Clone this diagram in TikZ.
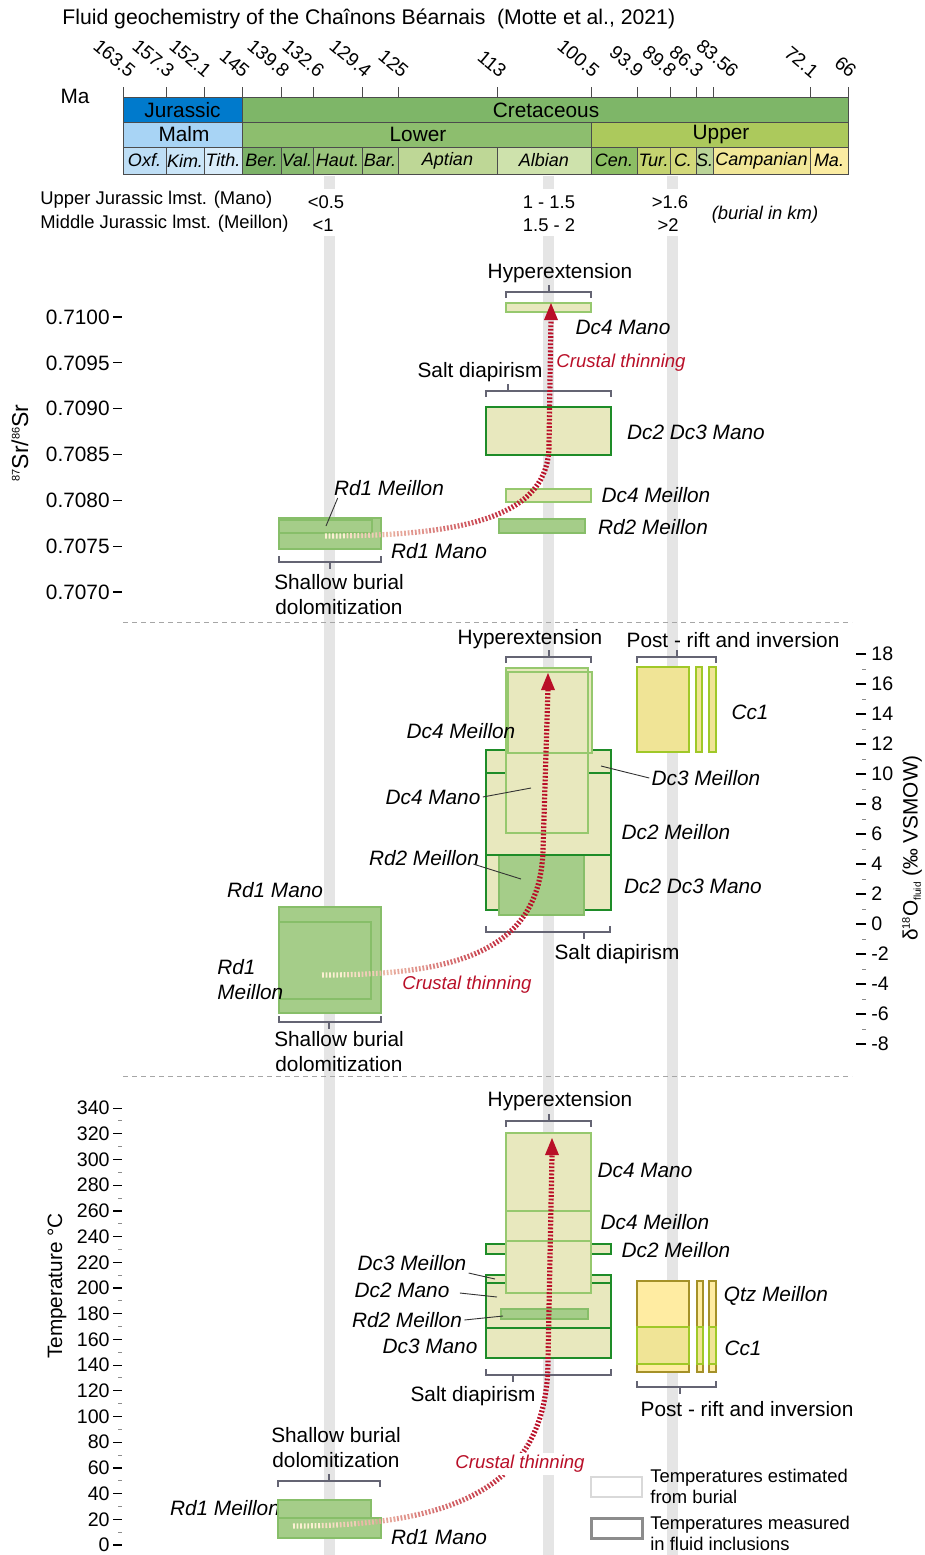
\documentclass[tikz,border=0pt]{standalone}
\usepackage{fontspec}
\setmainfont{Liberation Sans}

% Colores de la escala de tiempo
\definecolor{jurblue}{RGB}{0,122,204}
\definecolor{cretgreen}{RGB}{126,182,104}
\definecolor{malmblue}{RGB}{168,212,245}
\definecolor{lowergreen}{RGB}{141,190,110}
\definecolor{uppergreen}{RGB}{172,201,92}
\definecolor{oxf}{RGB}{190,222,245}
\definecolor{kim}{RGB}{202,229,248}
\definecolor{tith}{RGB}{216,236,250}
\definecolor{ber}{RGB}{124,178,104}
\definecolor{val}{RGB}{136,186,112}
\definecolor{haut}{RGB}{154,196,124}
\definecolor{barr}{RGB}{162,200,130}
\definecolor{apt}{RGB}{190,215,150}
\definecolor{alb}{RGB}{206,226,172}
\definecolor{cen}{RGB}{140,190,100}
\definecolor{tur}{RGB}{196,211,112}
\definecolor{con}{RGB}{210,216,122}
\definecolor{san}{RGB}{186,211,152}
\definecolor{camp}{RGB}{241,231,152}
\definecolor{maas}{RGB}{251,236,162}
% Colores de las cajas
\definecolor{boxfill}{RGB}{232,232,190}
\definecolor{lightgr}{RGB}{150,200,110}
\definecolor{darkgr}{RGB}{30,140,40}
\definecolor{rdfill}{RGB}{165,205,137}
\definecolor{rdline}{RGB}{135,190,105}
\definecolor{ccfill}{RGB}{240,228,150}
\definecolor{ccline}{RGB}{160,200,40}
\definecolor{qtzfill}{RGB}{255,236,162}
\definecolor{qtzline}{RGB}{165,145,40}
\definecolor{crustred}{RGB}{185,15,40}
\definecolor{crustpale}{RGB}{252,240,210}
\definecolor{brkgray}{RGB}{100,100,115}

\tikzset{
  txt/.style={font=\fontsize{10.4}{12.5}\selectfont, inner sep=1pt},
  lbl/.style={font=\fontsize{10.4}{12.5}\selectfont\itshape, inner sep=1pt},
  num/.style={font=\fontsize{9.8}{11}\selectfont, inner sep=1pt},
  small/.style={font=\fontsize{9.2}{10.5}\selectfont, inner sep=1pt},
  stage/.style={font=\fontsize{9}{10}\selectfont\itshape, inner sep=0pt},
  agelbl/.style={font=\fontsize{9.5}{10}\selectfont, inner sep=0pt, rotate=-40, anchor=east},
  cell/.style={draw=black!70, line width=.4pt},
  band/.style={fill=black!10},
  sepline/.style={draw=black!35, dash pattern=on 2.5pt off 2pt, line width=.5pt},
  axtick/.style={line width=.6pt},
  minortick/.style={draw=black!45, line width=.5pt},
  brk/.style={draw=brkgray, line width=.6pt},
  leader/.style={draw=black!80, line width=.45pt},
  lightbox/.style={fill=boxfill, draw=lightgr, line width=1.3pt},
  darkbox/.style={fill=boxfill, draw=darkgr, line width=1.3pt},
  rdbox/.style={fill=rdfill, draw=rdline, line width=.7pt},
  ccbox/.style={fill=ccfill, draw=ccline, line width=1.2pt},
  qtzbox/.style={fill=qtzfill, draw=qtzline, line width=1.2pt},
  crustline/.style={line width=2.6pt, dash pattern=on .9pt off .9pt},
  crustlbl/.style={font=\fontsize{9.3}{11}\selectfont\itshape, text=crustred, inner sep=1pt},
  legA/.style={draw=black!15, line width=.8pt},
  legB/.style={draw=black!45, line width=1.5pt}
}

% Llave con etiqueta arriba: x1, x2, y, x centro
\newcommand\brackup[4]{\draw[brk] (#1,#3+6) -- (#1,#3) -- (#2,#3) -- (#2,#3+6) (#4,#3) -- (#4,#3-7);}
% Llave con etiqueta abajo
\newcommand\brackdown[4]{\draw[brk] (#1,#3-6) -- (#1,#3) -- (#2,#3) -- (#2,#3-6) (#4,#3) -- (#4,#3+7);}
% Flecha de adelgazamiento cortical con degradado: camino, x0, x1, y arriba, y abajo
\newcommand\crustarrow[5]{%
  \begin{scope}\clip (#2-80,#4) rectangle (#2,#5); \draw[crustline,draw=crustpale] #1;\end{scope}
  \foreach \k in {0,...,11}{%
    \pgfmathtruncatemacro\pct{100*(\k+1)/12}%
    \begin{scope}
      \clip ({#2+(#3-#2)*\k/12},#4) rectangle ({#2+(#3-#2)*(\k+1)/12},#5);
      \draw[crustline,draw=crustred!\pct!crustpale] #1;
    \end{scope}}
  \begin{scope}\clip (#3,#4) rectangle (#3+60,#5); \draw[crustline,draw=crustred] #1;\end{scope}}

\begin{document}
\begin{tikzpicture}[x=0.5pt, y=-0.5pt]
    \useasboundingbox (0,0) rectangle (925,1555);

    % Bandas grises
    \foreach \x in {329,548,672} {
        \fill[band] (\x-5.5,176) rectangle (\x+5.5,189);
        \fill[band] (\x-5.5,236) rectangle (\x+5.5,1555);
    }

    % Titulo
    \node[txt, font=\fontsize{10.6}{12.5}\selectfont, anchor=west] (title) at (60,19) {Fluid geochemistry of the Chaînons Béarnais~~(Motte et al., 2021)};

    % Escala de tiempo
    \node[txt] (ma) at (75,96) {Ma};
    \fill[jurblue] (123,97) rectangle (242,122);
    \fill[cretgreen] (242,97) rectangle (848,122);
    \fill[malmblue] (123,122) rectangle (242,147);
    \fill[lowergreen] (242,122) rectangle (591,147);
    \fill[uppergreen] (591,122) rectangle (848,147);
    \draw[cell] (123,97) rectangle (242,122) (242,97) rectangle (848,122);
    \draw[cell] (123,122) rectangle (242,147) (242,122) rectangle (591,147) (591,122) rectangle (848,147);
    \node[txt] (jur) at (182.5,110) {Jurassic};
    \node[txt] (cret) at (546,110) {Cretaceous};
    \node[txt] (malm) at (184,134.5) {Malm};
    \node[txt] (lower) at (418,134.5) {Lower};
    \node[txt] (upper) at (721,134.5) {Upper};
    \foreach \xa/\xb/\col/\name in {123/166/oxf/Oxf., 166/204/kim/Kim., 204/242/tith/Tith.,
        242/281/ber/Ber., 281/313/val/Val., 313/362/haut/Haut., 362/398/barr/Bar.,
        398/497/apt/Aptian, 497/591/alb/Albian, 591/637/cen/Cen., 637/670/tur/Tur.,
        670/696/con/C., 696/713/san/S., 713/810/camp/Campanian, 810/848/maas/Ma.} {
        \fill[\col] (\xa,147) rectangle (\xb,174);
        \draw[cell] (\xa,147) rectangle (\xb,174);
        \node[stage] at ({(\xa+\xb)/2},160.5) {\name};
    }
    \foreach \x/\a/\dx in {123/163.5/6, 166/157.3/2, 204/152.1/1, 242/145/1, 281/139.8/2, 313/132.6/5,
        362/129.4/3, 398/125/4, 497/113/3, 591/100.5/2, 637/93.9/0, 670/89.8/0, 696/86.3/1,
        713/83.56/19, 810/72.1/2, 848/66/2} {
        \draw[cell] (\x,87) -- (\x,97);
        \node[agelbl] at (\x+\dx+4,74) {\a};
    }

    % Profundidad de enterramiento
    \node[small, anchor=west] (mano) at (38,200) {Upper Jurassic lmst. (Mano)};
    \node[small, anchor=west] (meillon) at (38,224) {Middle Jurassic lmst. (Meillon)};
    \node[small] (bma) at (326,202) {<0.5};
    \node[small] (bmb) at (549,202) {1 - 1.5};
    \node[small] (bmc) at (670,202) {>1.6};
    \node[small] (bea) at (323,225) {<1};
    \node[small] (beb) at (549,225) {1.5 - 2};
    \node[small] (bec) at (668,225) {>2};
    \node[small, font=\fontsize{9.2}{10.5}\selectfont\itshape] (burial) at (765,215) {(burial in km)};

    % Separadores
    \draw[sepline] (123,622) -- (852,622);
    \draw[sepline] (123,1076) -- (852,1076);

    % ---------- Panel Sr ----------
    \foreach \v [count=\i from 0] in {0.7100,0.7095,0.7090,0.7085,0.7080,0.7075,0.7070} {
        \draw[axtick] (113,{317+45.83*\i}) -- (122,{317+45.83*\i});
        \node[num, font=\fontsize{10.4}{11}\selectfont, anchor=east] at (112,{317+45.83*\i}) {\v};
    }
    \node[txt, font=\fontsize{11.5}{12.5}\selectfont, rotate=90] (srlbl) at (20,443) {\raisebox{.7ex}{\fontsize{5.5}{6}\selectfont 87}Sr/\raisebox{.7ex}{\fontsize{5.5}{6}\selectfont 86}Sr};

    \node[txt] (hypA) at (560,273) {Hyperextension};
    \brackup{506}{591}{292}{549}
    \draw[lightbox] (506,303) rectangle (591,312);
    \node[lbl] (dcfourmanoA) at (623,327) {Dc4 Mano};
    \node[txt] (saltA) at (480,372) {Salt diapirism};
    \brackup{486}{611}{391}{508}
    \draw[darkbox] (486,407) rectangle (611,455);
    \node[lbl] (dcmanoA) at (696,432) {Dc2 Dc3 Mano};
    \draw[lightbox] (506,489) rectangle (591,502);
    \node[lbl] (dcfourmeiA) at (656,495) {Dc4 Meillon};
    \draw[rdbox] (499,519) rectangle (585,533);
    \node[lbl] (rdtwoA) at (653,527) {Rd2 Meillon};
    \draw[rdbox] (279,518) rectangle (381,549);
    \draw[rdline, line width=.7pt] (279,520) rectangle (372,533);
    \node[lbl] (rdonemeiA) at (389,488) {Rd1 Meillon};
    \draw[leader] (rdonemeiA.south west) ++(6,0) -- (326,526);
    \node[lbl] (rdonemanoA) at (439,551) {Rd1 Mano};
    \node[txt, align=center] (shallowA) at (339,595) {Shallow burial\\dolomitization};
    \brackdown{279}{381}{562}{330}
    \crustarrow{(325,536) .. controls (470,536) and (549,515) .. (549,445) -- (551,318)}{345}{540}{290}{560}
    \fill[crustred] (544,320) -- (551,303) -- (558,320) -- cycle;
    \node[crustlbl] (crustA) at (621,363) {Crustal thinning};

    % ---------- Panel d18O ----------
    \foreach \v in {18,16,...,-8} {
        \draw[axtick] (856,{924-15*(\v)}) -- (866,{924-15*(\v)});
        \node[num, anchor=west] at (869,{924-15*(\v)}) {\v};
    }
    \foreach \v in {17,15,...,-7}
        \draw[minortick] (862,{924-15*(\v)}) -- (866,{924-15*(\v)});
    \node[txt, rotate=90] (dolbl) at (912,848) {δ\raisebox{.7ex}{\fontsize{5.5}{6}\selectfont 18}O\raisebox{-.3ex}{\fontsize{5}{6}\selectfont fluid}~(‰ VSMOW)};

    \node[txt] (hypB) at (530,639) {Hyperextension};
    \brackup{506}{591}{657}{549}
    \node[txt] (postB) at (733,640) {Post - rift and inversion};
    \brackup{637}{716}{657}{677}
    \foreach \xa/\xb in {637/689,696/702,709/716}
        \draw[ccbox] (\xa,667) rectangle (\xb,752);
    \node[lbl] (ccB) at (750,712) {Cc1};
    \draw[darkbox] (486,855) rectangle (611,910);
    \draw[rdbox] (499,855) rectangle (584,915);
    \draw[darkbox] (486,750) rectangle (611,855);
    \draw[darkbox] (486,773) rectangle (611,855);
    \draw[lightbox] (508,672) rectangle (592,753);
    \draw[lightbox] (506,668) rectangle (588,833);
    \draw[lightgr, line width=1.3pt] (508,672) rectangle (592,753);
    \node[lbl] (dcfourmeiB) at (461,731) {Dc4 Meillon};
    \node[lbl] (dcthreemeiB) at (706,778) {Dc3 Meillon};
    \draw[leader] (dcthreemeiB.west) -- (601,766);
    \node[lbl] (dcfourmanoB) at (433,797) {Dc4 Mano};
    \draw[leader] (dcfourmanoB.east) -- (531,788);
    \node[lbl] (dctwomeiB) at (676,832) {Dc2 Meillon};
    \node[lbl] (rdtwoB) at (424,858) {Rd2 Meillon};
    \draw[leader] (rdtwoB.south east) ++(-8,-4) -- (521,879);
    \node[lbl] (dcmanoB) at (693,886) {Dc2 Dc3 Mano};
    \node[txt] (saltB) at (617,954) {Salt diapirism};
    \brackdown{486}{610}{932}{584}
    \draw[rdbox] (279,907) rectangle (381,1013);
    \draw[rdline, line width=.7pt] (279,922) rectangle (371,999);
    \node[lbl] (rdonemanoB) at (275,890) {Rd1 Mano};
    \node[lbl, anchor=west, align=left] (rdonemeiB) at (215,980) {Rd1\\Meillon};
    \node[txt, align=center] (shallowB) at (339,1052) {Shallow burial\\dolomitization};
    \brackdown{279}{381}{1022}{329}
    \crustarrow{(322,975) .. controls (460,975) and (540,950) .. (543,850) -- (548,688)}{345}{540}{660}{990}
    \fill[crustred] (541,690) -- (548,673) -- (555,690) -- cycle;
    \node[crustlbl] (crustB) at (467,985) {Crustal thinning};

    % ---------- Panel temperatura ----------
    \foreach \t in {0,20,...,340} {
        \draw[axtick] (113,{1545-1.285*\t}) -- (122,{1545-1.285*\t});
        \node[num, anchor=east] at (112,{1545-1.285*\t}) {\t};
    }
    \foreach \t in {10,30,...,330}
        \draw[minortick] (118,{1545-1.285*\t}) -- (122,{1545-1.285*\t});
    \node[txt, rotate=90] (templbl) at (57,1286) {Temperature °C};

    \node[txt] (hypC) at (560,1101) {Hyperextension};
    \brackup{506}{591}{1121}{549}
    \draw[darkbox] (486,1275) rectangle (611,1358);
    \draw[darkbox] (486,1283) rectangle (611,1328);
    \draw[darkbox] (486,1328) rectangle (611,1358);
    \draw[rdbox] (501,1309) rectangle (588,1319);
    \draw[darkbox] (486,1244) rectangle (611,1254);
    \draw[lightbox] (506,1133) rectangle (591,1293);
    \draw[lightgr, line width=1.3pt] (506,1211) rectangle (591,1241);
    \node[lbl] (dcfourmanoC) at (645,1170) {Dc4 Mano};
    \node[lbl] (dcfourmeiC) at (655,1222) {Dc4 Meillon};
    \node[lbl] (dctwomeiC) at (676,1250) {Dc2 Meillon};
    \node[lbl] (dcthreemeiC) at (412,1263) {Dc3 Meillon};
    \draw[leader] (dcthreemeiC.south east) -- (495,1279);
    \node[lbl] (dctwomanoC) at (402,1290) {Dc2 Mano};
    \draw[leader] (dctwomanoC.east) ++(8,3) -- (497,1297);
    \node[lbl] (rdtwoC) at (407,1320) {Rd2 Meillon};
    \draw[leader] (rdtwoC.east) -- (503,1316);
    \node[lbl] (dcthreemanoC) at (430,1346) {Dc3 Mano};
    \node[txt] (saltC) at (473,1396) {Salt diapirism};
    \brackdown{486}{611}{1375}{513}
    \foreach \xa/\xb in {637/689,697/703,709/716} {
        \draw[qtzbox] (\xa,1281) rectangle (\xb,1372);
        \draw[ccbox] (\xa,1327) rectangle (\xb,1364);
    }
    \node[lbl] (qtzC) at (776,1296) {Qtz Meillon};
    \node[lbl] (ccC) at (743,1348) {Cc1};
    \node[txt] (postC) at (747,1409) {Post - rift and inversion};
    \brackdown{637}{716}{1387}{680}
    \node[txt, align=center] (shallowC) at (336,1448) {Shallow burial\\dolomitization};
    \brackup{278}{380}{1481}{329}
    \node[lbl] (rdonemeiC) at (225,1508) {Rd1 Meillon};
    \draw[rdbox] (278,1500) rectangle (371,1519);
    \draw[rdbox] (278,1518) rectangle (381,1538);
    \node[lbl] (rdonemanoC) at (439,1537) {Rd1 Mano};
    \crustarrow{(293,1526) .. controls (450,1526) and (548,1490) .. (548,1360) -- (552,1155)}{320}{545}{1125}{1545}
    \fill[crustred] (545,1155) -- (552,1138) -- (559,1155) -- cycle;
    \node[crustlbl, fill=white] (crustC) at (520,1464) {Crustal thinning};

    % Leyenda
    \draw[legA] (591,1477) rectangle (642,1497);
    \node[small, anchor=west, align=left] (legAtxt) at (648,1486) {Temperatures estimated\\from burial};
    \draw[legB] (591,1518) rectangle (642,1538);
    \node[small, anchor=west, align=left] (legBtxt) at (648,1533) {Temperatures measured\\in fluid inclusions};
\end{tikzpicture}
\end{document}
